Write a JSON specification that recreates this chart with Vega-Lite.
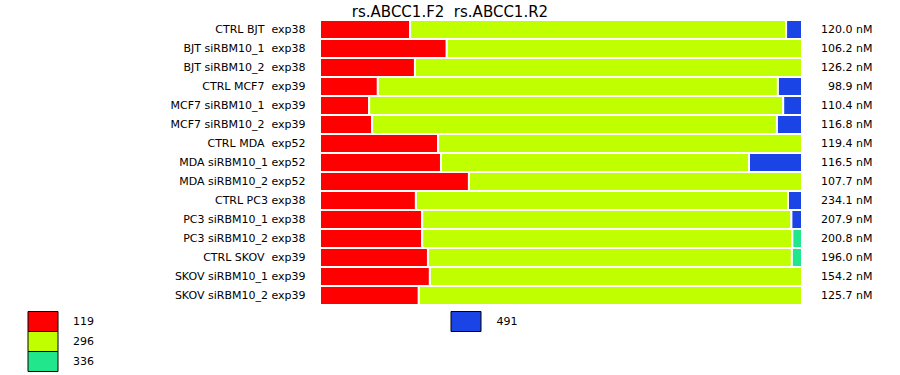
{
  "$schema": "https://vega.github.io/schema/vega-lite/v6.json",
  "autosize": {"type": "none"},
  "width": 482,
  "height": 285,
  "padding": {"left": 320, "top": 20, "right": 98, "bottom": 70},
  "background": "white",
  "config": {"view": {"stroke": null}, "font": "DejaVu Sans"},
  "title": {"text": "rs.ABCC1.F2\u00a0\u00a0rs.ABCC1.R2", "fontSize": 15, "fontWeight": "normal", "font": "DejaVu Sans", "color": "black", "anchor": "middle", "dx": -111, "baseline": "alphabetic", "offset": 0, "dy": 13},
  "data": {"values": [
    {"sample": "CTRL BJT\u00a0\u00a0exp38", "conc": "120.0 nM", "seg": 1, "allele": "119", "w": 18.7},
    {"sample": "CTRL BJT\u00a0\u00a0exp38", "conc": "120.0 nM", "seg": 2, "allele": "296", "w": 78.0},
    {"sample": "CTRL BJT\u00a0\u00a0exp38", "conc": "120.0 nM", "seg": 3, "allele": "491", "w": 3.3},
    {"sample": "BJT siRBM10_1\u00a0\u00a0exp38", "conc": "106.2 nM", "seg": 1, "allele": "119", "w": 26.3},
    {"sample": "BJT siRBM10_1\u00a0\u00a0exp38", "conc": "106.2 nM", "seg": 2, "allele": "296", "w": 73.7},
    {"sample": "BJT siRBM10_2\u00a0\u00a0exp38", "conc": "126.2 nM", "seg": 1, "allele": "119", "w": 19.7},
    {"sample": "BJT siRBM10_2\u00a0\u00a0exp38", "conc": "126.2 nM", "seg": 2, "allele": "296", "w": 80.3},
    {"sample": "CTRL MCF7\u00a0\u00a0exp39", "conc": "98.9 nM", "seg": 1, "allele": "119", "w": 12.0},
    {"sample": "CTRL MCF7\u00a0\u00a0exp39", "conc": "98.9 nM", "seg": 2, "allele": "296", "w": 83.0},
    {"sample": "CTRL MCF7\u00a0\u00a0exp39", "conc": "98.9 nM", "seg": 3, "allele": "491", "w": 5.0},
    {"sample": "MCF7 siRBM10_1\u00a0\u00a0exp39", "conc": "110.4 nM", "seg": 1, "allele": "119", "w": 10.2},
    {"sample": "MCF7 siRBM10_1\u00a0\u00a0exp39", "conc": "110.4 nM", "seg": 2, "allele": "296", "w": 85.9},
    {"sample": "MCF7 siRBM10_1\u00a0\u00a0exp39", "conc": "110.4 nM", "seg": 3, "allele": "491", "w": 3.9},
    {"sample": "MCF7 siRBM10_2\u00a0\u00a0exp39", "conc": "116.8 nM", "seg": 1, "allele": "119", "w": 10.8},
    {"sample": "MCF7 siRBM10_2\u00a0\u00a0exp39", "conc": "116.8 nM", "seg": 2, "allele": "296", "w": 84.0},
    {"sample": "MCF7 siRBM10_2\u00a0\u00a0exp39", "conc": "116.8 nM", "seg": 3, "allele": "491", "w": 5.2},
    {"sample": "CTRL MDA\u00a0\u00a0exp52", "conc": "119.4 nM", "seg": 1, "allele": "119", "w": 24.5},
    {"sample": "CTRL MDA\u00a0\u00a0exp52", "conc": "119.4 nM", "seg": 2, "allele": "296", "w": 75.5},
    {"sample": "MDA siRBM10_1 exp52", "conc": "116.5 nM", "seg": 1, "allele": "119", "w": 25.1},
    {"sample": "MDA siRBM10_1 exp52", "conc": "116.5 nM", "seg": 2, "allele": "296", "w": 63.9},
    {"sample": "MDA siRBM10_1 exp52", "conc": "116.5 nM", "seg": 3, "allele": "491", "w": 11.0},
    {"sample": "MDA siRBM10_2 exp52", "conc": "107.7 nM", "seg": 1, "allele": "119", "w": 30.9},
    {"sample": "MDA siRBM10_2 exp52", "conc": "107.7 nM", "seg": 2, "allele": "296", "w": 69.1},
    {"sample": "CTRL PC3 exp38", "conc": "234.1 nM", "seg": 1, "allele": "119", "w": 19.9},
    {"sample": "CTRL PC3 exp38", "conc": "234.1 nM", "seg": 2, "allele": "296", "w": 77.2},
    {"sample": "CTRL PC3 exp38", "conc": "234.1 nM", "seg": 3, "allele": "491", "w": 2.9},
    {"sample": "PC3 siRBM10_1 exp38", "conc": "207.9 nM", "seg": 1, "allele": "119", "w": 21.2},
    {"sample": "PC3 siRBM10_1 exp38", "conc": "207.9 nM", "seg": 2, "allele": "296", "w": 76.6},
    {"sample": "PC3 siRBM10_1 exp38", "conc": "207.9 nM", "seg": 3, "allele": "491", "w": 2.2},
    {"sample": "PC3 siRBM10_2 exp38", "conc": "200.8 nM", "seg": 1, "allele": "119", "w": 21.2},
    {"sample": "PC3 siRBM10_2 exp38", "conc": "200.8 nM", "seg": 2, "allele": "296", "w": 76.8},
    {"sample": "PC3 siRBM10_2 exp38", "conc": "200.8 nM", "seg": 3, "allele": "336", "w": 2.0},
    {"sample": "CTRL SKOV\u00a0\u00a0exp39", "conc": "196.0 nM", "seg": 1, "allele": "119", "w": 22.4},
    {"sample": "CTRL SKOV\u00a0\u00a0exp39", "conc": "196.0 nM", "seg": 2, "allele": "296", "w": 75.5},
    {"sample": "CTRL SKOV\u00a0\u00a0exp39", "conc": "196.0 nM", "seg": 3, "allele": "336", "w": 2.1},
    {"sample": "SKOV siRBM10_1 exp39", "conc": "154.2 nM", "seg": 1, "allele": "119", "w": 22.8},
    {"sample": "SKOV siRBM10_1 exp39", "conc": "154.2 nM", "seg": 2, "allele": "296", "w": 77.2},
    {"sample": "SKOV siRBM10_2 exp39", "conc": "125.7 nM", "seg": 1, "allele": "119", "w": 20.5},
    {"sample": "SKOV siRBM10_2 exp39", "conc": "125.7 nM", "seg": 2, "allele": "296", "w": 79.5}
  ]},
  "transform": [
    {"stack": "w", "groupby": ["sample"], "sort": [{"field": "seg", "order": "ascending"}], "as": ["x0", "x1"], "offset": "normalize"}
  ],
  "layer": [
    {
      "transform": [{"filter": "datum.allele != '491'"}],
      "mark": {"type": "bar", "stroke": "white", "strokeWidth": 2},
      "encoding": {
        "y": {"field": "sample", "type": "nominal",
          "scale": {"domain": ["CTRL BJT\u00a0\u00a0exp38", "BJT siRBM10_1\u00a0\u00a0exp38", "BJT siRBM10_2\u00a0\u00a0exp38", "CTRL MCF7\u00a0\u00a0exp39", "MCF7 siRBM10_1\u00a0\u00a0exp39", "MCF7 siRBM10_2\u00a0\u00a0exp39", "CTRL MDA\u00a0\u00a0exp52", "MDA siRBM10_1 exp52", "MDA siRBM10_2 exp52", "CTRL PC3 exp38", "PC3 siRBM10_1 exp38", "PC3 siRBM10_2 exp38", "CTRL SKOV\u00a0\u00a0exp39", "SKOV siRBM10_1 exp39", "SKOV siRBM10_2 exp39"], "paddingInner": 0, "paddingOuter": 0},
          "axis": {"orient": "left", "title": null, "ticks": false, "domain": false, "labelPadding": 15, "labelFontSize": 11, "labelColor": "black", "labelFont": "DejaVu Sans", "labelLimit": 300}},
        "x": {"field": "x0", "type": "quantitative", "scale": {"domain": [0, 1], "nice": false}, "axis": null},
        "x2": {"field": "x1"},
        "color": {"field": "allele", "type": "nominal",
          "scale": {"domain": ["119", "296", "336"], "range": ["#ff0000", "#c0ff00", "#22e68c"]},
          "legend": {"orient": "none", "legendX": -284.5, "legendY": 294, "title": null, "direction": "vertical", "padding": 0, "rowPadding": -5,
            "symbolType": "M-2.142857,-1.428571H2.142857V1.428571H-2.142857Z", "symbolSize": 196, "symbolStrokeColor": "black", "symbolStrokeWidth": 1, "symbolOpacity": 1,
            "labelOffset": 22.5, "labelFontSize": 11, "labelFont": "DejaVu Sans", "labelColor": "black",
            "encode": {"symbols": {"update": {"stroke": {"value": "black"}, "strokeWidth": {"value": 1}}}}}}
      }
    },
    {
      "transform": [{"filter": "datum.allele == '491'"}],
      "mark": {"type": "bar", "stroke": "white", "strokeWidth": 2},
      "encoding": {
        "y": {"field": "sample", "type": "nominal",
          "scale": {"domain": ["CTRL BJT\u00a0\u00a0exp38", "BJT siRBM10_1\u00a0\u00a0exp38", "BJT siRBM10_2\u00a0\u00a0exp38", "CTRL MCF7\u00a0\u00a0exp39", "MCF7 siRBM10_1\u00a0\u00a0exp39", "MCF7 siRBM10_2\u00a0\u00a0exp39", "CTRL MDA\u00a0\u00a0exp52", "MDA siRBM10_1 exp52", "MDA siRBM10_2 exp52", "CTRL PC3 exp38", "PC3 siRBM10_1 exp38", "PC3 siRBM10_2 exp38", "CTRL SKOV\u00a0\u00a0exp39", "SKOV siRBM10_1 exp39", "SKOV siRBM10_2 exp39"], "paddingInner": 0, "paddingOuter": 0},
          "axis": null},
        "x": {"field": "x0", "type": "quantitative", "scale": {"domain": [0, 1], "nice": false}, "axis": null},
        "x2": {"field": "x1"},
        "color": {"field": "allele", "type": "nominal",
          "scale": {"domain": ["491"], "range": ["#1a44e6"]},
          "legend": {"orient": "none", "legendX": 138.5, "legendY": 294, "title": null, "direction": "vertical", "padding": 0, "rowPadding": 0,
            "symbolType": "M-2.142857,-1.428571H2.142857V1.428571H-2.142857Z", "symbolSize": 196, "symbolStrokeColor": "black", "symbolStrokeWidth": 1, "symbolOpacity": 1,
            "labelOffset": 23, "labelFontSize": 11, "labelFont": "DejaVu Sans", "labelColor": "black",
            "encode": {"symbols": {"update": {"stroke": {"value": "black"}, "strokeWidth": {"value": 1}}}}}}
      }
    },
    {
      "mark": {"type": "bar", "opacity": 0},
      "encoding": {
        "y": {"field": "conc", "type": "nominal",
          "scale": {"domain": ["120.0 nM", "106.2 nM", "126.2 nM", "98.9 nM", "110.4 nM", "116.8 nM", "119.4 nM", "116.5 nM", "107.7 nM", "234.1 nM", "207.9 nM", "200.8 nM", "196.0 nM", "154.2 nM", "125.7 nM"], "paddingInner": 0, "paddingOuter": 0},
          "axis": {"orient": "right", "title": null, "ticks": false, "domain": false, "labelAlign": "right", "labelPadding": 70, "labelFontSize": 11, "labelColor": "black", "labelFont": "DejaVu Sans"}}
      }
    }
  ],
  "resolve": {"scale": {"y": "independent", "color": "independent"}, "axis": {"y": "independent"}}
}
